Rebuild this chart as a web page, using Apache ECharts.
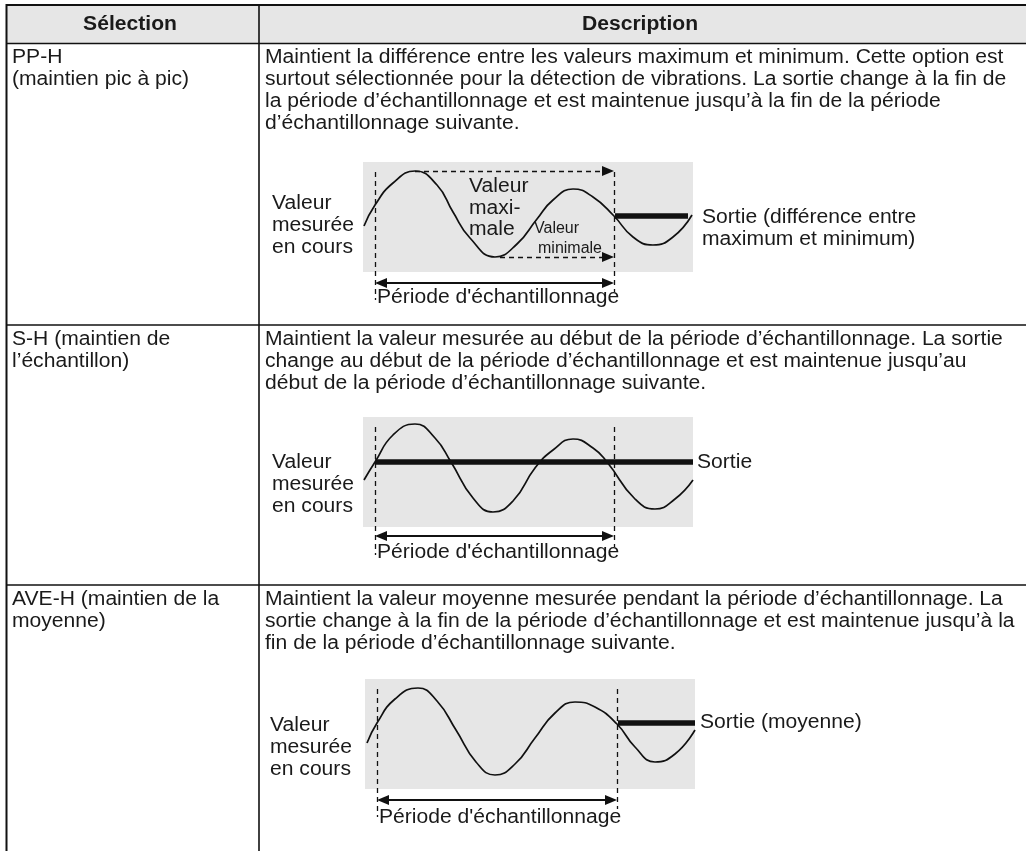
<!DOCTYPE html>
<html><head><meta charset="utf-8">
<script src="https://cdn.jsdelivr.net/npm/echarts@6/dist/echarts.min.js"></script>
<style>html,body{margin:0;padding:0;background:#fff}#c{width:1026px;height:851px}</style>
</head><body><div id="c"></div>
<script>
// ---- Table content ----
const headers = ['Sélection', 'Description'];
const modes = ['PP-H\n(maintien pic à pic)', 'S-H (maintien de\nl’échantillon)', 'AVE-H (maintien de la\nmoyenne)'];
const descriptions = [
  'Maintient la différence entre les valeurs maximum et minimum. Cette option est\nsurtout sélectionnée pour la détection de vibrations. La sortie change à la fin de\nla période d’échantillonnage et est maintenue jusqu’à la fin de la période\nd’échantillonnage suivante.',
  'Maintient la valeur mesurée au début de la période d’échantillonnage. La sortie\nchange au début de la période d’échantillonnage et est maintenue jusqu’au\ndébut de la période d’échantillonnage suivante.',
  'Maintient la valeur moyenne mesurée pendant la période d’échantillonnage. La\nsortie change à la fin de la période d’échantillonnage et est maintenue jusqu’à la\nfin de la période d’échantillonnage suivante.'
];
const inputLabel = 'Valeur\nmesurée\nen cours';
const outputLabels = ['Sortie (différence entre\nmaximum et minimum)', 'Sortie', 'Sortie (moyenne)'];
const periodLabel = "Période d'échantillonnage";

// ---- Signal values (time, amplitude) ----
const ppTime  = [1, 12, 30, 52, 74, 90, 107, 132, 154, 174, 190, 210, 230, 251, 270, 290, 310, 329];
const ppValue = [-9, 12, 34, 46, 32, 5, -21, -40, -27, -2, 17, 28, 20, 1, -20, -28, -20, 2];
const ppOutTime  = [252, 325];
const ppOutValue = [1, 1];
const ppMaxTime = 52, ppMaxValue = 46, ppMinTime = 137, ppMinValue = -40;

const shTime  = [1, 12, 30, 52, 72, 88, 110, 130, 150, 172, 190, 210, 230, 244, 272, 292, 312, 330];
const shValue = [-8, 10, 37, 48, 34, 10, -26, -40, -29, 4, 22, 33, 24, 10, -27, -37, -27, -8];
const shOutTime  = [12, 330];
const shOutValue = [10, 10];

const aveTime  = [2, 12, 30, 53, 72, 91, 111, 130, 150, 170, 190, 210, 230, 252, 270, 290, 310, 330];
const aveValue = [-9, 11, 35, 46, 33, 4, -28, -41, -30, -4, 21, 32, 27, 10, -13, -28, -20, 4];
const aveOutTime  = [253, 330];
const aveOutValue = [11, 11];

const samplingStart = [12, 12, 12];
const samplingEnd = [251, 251, 252];

// ---- Layout ----
const FONT = '"Liberation Sans", Arial, Helvetica, sans-serif';
const TXT = '#1a1a1a';
const FS = 20, SX = 1.055;
const rectLeft = [363, 363, 365];
const rectTop = [162, 417, 679];
const rowTop = [43.5, 325, 585];
const arrowY = [-66, -64, -66];

const diagrams = [
  {t: ppTime, v: ppValue, ot: ppOutTime, ov: ppOutValue},
  {t: shTime, v: shValue, ot: shOutTime, ov: shOutValue},
  {t: aveTime, v: aveValue, ot: aveOutTime, ov: aveOutValue}
];

const grid = [], xAxis = [], yAxis = [], series = [];
diagrams.forEach((d, i) => {
  grid.push({left: rectLeft[i], top: rectTop[i], width: 330, height: 150, show: false});
  xAxis.push({gridIndex: i, type: 'value', min: 0, max: 330, show: false});
  yAxis.push({gridIndex: i, type: 'value', min: -95, max: 55, show: false});
  const dashed = [
    [{coord: [samplingStart[i], 45]}, {coord: [samplingStart[i], -83]}],
    [{coord: [samplingEnd[i], 45]}, {coord: [samplingEnd[i], -75]}]
  ];
  if (i === 0) {
    dashed.push([{coord: [ppMaxTime, ppMaxValue]}, {coord: [samplingEnd[i] - 6, ppMaxValue], symbol: 'triangle'}]);
    dashed.push([{coord: [ppMinTime, ppMinValue]}, {coord: [samplingEnd[i] - 6, ppMinValue], symbol: 'triangle'}]);
  }
  series.push({
    type: 'line', xAxisIndex: i, yAxisIndex: i,
    data: d.t.map((x, k) => [x, d.v[k]]),
    smooth: 0.5, symbol: 'none', z: 3,
    lineStyle: {color: '#111', width: 1.7},
    markArea: {silent: true, itemStyle: {color: '#e6e6e6'}, data: [[{coord: [0, 55]}, {coord: [330, -55]}]]},
    markLine: {silent: true, symbol: ['none', 'none'], symbolSize: [10, 12], label: {show: false},
      lineStyle: {color: '#111', type: [5, 4], width: 1.3}, emphasis: {disabled: true}, data: dashed}
  });
  series.push({
    type: 'line', xAxisIndex: i, yAxisIndex: i,
    data: d.ot.map((x, k) => [x, d.ov[k]]),
    symbol: 'none', z: 4,
    lineStyle: {color: '#111', width: 5.5, cap: 'butt'},
    markLine: {silent: true, symbol: ['triangle', 'triangle'], symbolSize: [10, 12], label: {show: false},
      lineStyle: {color: '#111', type: 'solid', width: 1.8}, emphasis: {disabled: true},
      data: [[{coord: [samplingStart[i] + 6, arrowY[i]]}, {coord: [samplingEnd[i] - 6, arrowY[i]]}]]}
  });
});

// ---- Graphic: table frame and texts ----
const g = [];
function line(x1, y1, x2, y2, w) {
  g.push({type: 'line', shape: {x1, y1, x2, y2}, style: {stroke: '#111', lineWidth: w}, z: 10});
}
function text(x, y, s, opt) {
  opt = opt || {};
  g.push({type: 'text', x, y, z: 11, scaleX: opt.sx || SX, style: {
    text: s, fill: TXT, font: (opt.bold ? 'bold ' : '') + (opt.size || FS) + 'px ' + FONT,
    lineHeight: opt.lh || 22, textAlign: opt.align || 'left', textVerticalAlign: 'top'}});
}
g.push({type: 'rect', shape: {x: 6, y: 5, width: 1020, height: 38.5}, style: {fill: '#e6e6e6'}, z: 9});
line(6, 5, 1026, 5, 2);
line(6, 43.5, 1026, 43.5, 1.6);
line(6.5, 4, 6.5, 851, 2);
line(259, 5, 259, 851, 1.6);
line(6, rowTop[1], 1026, rowTop[1], 1.6);
line(6, rowTop[2], 1026, rowTop[2], 1.6);
text(130, 13, headers[0], {bold: true, align: 'center'});
text(640, 13, headers[1], {bold: true, align: 'center'});
for (let i = 0; i < 3; i++) {
  text(12, rowTop[i] + 3, modes[i]);
  text(265, rowTop[i] + 3, descriptions[i]);
}
// diagram labels
const inX = [272, 272, 270], inTop = [192, 451, 714];
const outX = [702, 697, 700], outTop = [206, 451, 711];
const perX = [377, 377, 379], perTop = [286, 541, 806];
for (let i = 0; i < 3; i++) {
  text(inX[i], inTop[i], inputLabel);
  text(outX[i], outTop[i], outputLabels[i]);
  text(perX[i], perTop[i], periodLabel);
}
text(469, 176, 'Valeur\nmaxi-\nmale', {lh: 21.5});
text(534, 218, 'Valeur', {size: 16, sx: 1});
text(538, 238, 'minimale', {size: 16, sx: 1});

const chart = echarts.init(document.getElementById('c'), null, {renderer: 'canvas'});
chart.setOption({
  animation: false,
  backgroundColor: '#fff',
  grid, xAxis, yAxis, series,
  graphic: {elements: g}
});
</script>
</body></html>
